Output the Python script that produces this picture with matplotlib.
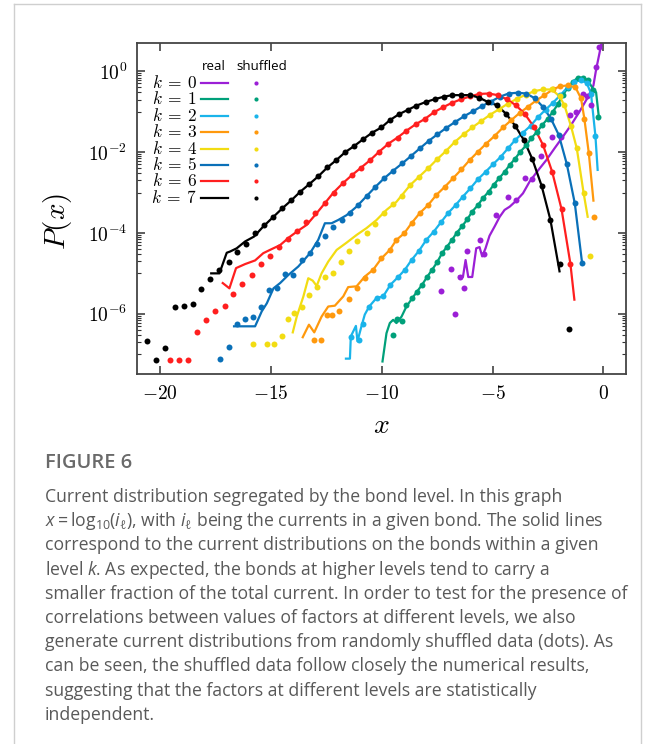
import matplotlib.pyplot as plt
import numpy as np
from matplotlib.ticker import FixedLocator, FuncFormatter, NullFormatter
from matplotlib.lines import Line2D

plt.rcParams['mathtext.fontset'] = 'cm'
# fonts used by the caption (math_fontfamily='custom')
plt.rcParams['mathtext.rm'] = 'Open Sans'
plt.rcParams['mathtext.it'] = 'Open Sans:italic'
plt.rcParams['mathtext.bf'] = 'Open Sans:bold'

levels = [0, 1, 2, 3, 4, 5, 6, 7]
colors = ['#9b1fd6', '#00a07a', '#1ab4ea', '#ff990d', '#f2dc12', '#0a70b8', '#ff1f1f', '#000000']

# ---------- data: x = log10(i), values stored as log10 P(x) ----------

# k = 0
real0_x = [-6.52, -6.34, -6.22, -6.10, -5.92, -5.74, -5.59, -5.47, -5.32, -5.14, -4.91, -4.68, -4.46, -4.23,
           -3.93, -3.63, -3.33, -2.96, -2.58, -2.21, -1.83, -1.46, -1.08, -0.71, -0.45, -0.33, -0.18, -0.03]
real0_lg = [-5.08, -5.09, -4.67, -5.09, -5.09, -4.38, -4.35, -4.58, -4.38, -4.07, -3.84, -3.60, -3.43, -3.35,
            -3.20, -3.02, -2.73, -2.46, -2.20, -1.91, -1.62, -1.33, -1.00, -0.65, -0.35, 0.04, 0.44, 0.85]
shuf0_x = [-7.31, -6.86, -6.71, -6.49, -6.31, -6.16, -5.59, -5.41, -4.86, -4.31, -3.93, -3.56, -3.21, -2.81,
           -2.31, -1.91, -1.53, -1.23, -0.90, -0.75, -0.57, -0.33, -0.18]
shuf0_lg = [-5.43, -4.90, -6.00, -5.08, -5.37, -4.44, -4.17, -4.52, -3.56, -3.10, -3.19, -2.65, -2.67, -2.09,
            -1.62, -1.62, -1.09, -1.00, -0.57, -0.62, -0.84, 0.11, 0.60]

# k = 1
real1_x = [-9.97, -9.79, -9.64, -9.49, -9.34, -9.11, -8.89, -8.62, -8.41, -8.18, -7.96, -7.73, -7.51, -7.28,
           -7.06, -6.83, -6.61, -6.37, -6.14, -5.92, -5.66, -5.44, -5.18, -4.95, -4.71, -4.46, -4.23, -3.98,
           -3.75, -3.48, -3.26, -3.00, -2.76, -2.51, -2.28, -2.06, -1.83, -1.61, -1.38, -1.16, -0.93, -0.71,
           -0.45, -0.33, -0.21]
real1_lg = [-7.18, -6.48, -6.23, -6.15, -6.23, -6.07, -5.82, -5.61, -5.45, -5.28, -5.09, -4.91, -4.73, -4.50,
            -4.34, -4.17, -3.99, -3.83, -3.66, -3.47, -3.31, -3.14, -2.98, -2.81, -2.65, -2.49, -2.32, -2.16,
            -1.99, -1.83, -1.66, -1.50, -1.33, -1.17, -1.00, -0.82, -0.59, -0.41, -0.26, -0.16, -0.16, -0.22,
            -0.45, -0.52, -1.11]
shuf1_x = [-9.49, -9.31, -9.08, -8.89, -8.62, -8.41, -8.18, -7.96, -7.73, -7.51, -7.28, -7.06, -6.83, -6.61,
           -6.37, -6.14, -5.92, -5.66, -5.44, -5.18, -4.95, -4.71, -4.46, -4.23, -3.98, -3.75, -3.48, -3.26,
           -3.00, -2.76, -2.51, -2.28, -2.06, -1.83, -1.61, -1.38, -1.16, -0.93, -0.71, -0.45, -0.26]
shuf1_lg = [-6.52, -6.13, -6.19, -5.78, -5.61, -5.45, -5.28, -5.09, -4.91, -4.73, -4.50, -4.34, -4.17, -3.99,
            -3.83, -3.66, -3.47, -3.31, -3.14, -2.98, -2.81, -2.65, -2.49, -2.32, -2.16, -1.99, -1.83, -1.66,
            -1.50, -1.33, -1.17, -1.00, -0.82, -0.59, -0.41, -0.26, -0.16, -0.16, -0.22, -0.47, -1.13]

# k = 2
real2_x = [-11.62, -11.44, -11.40, -11.17, -11.10, -10.92, -10.77, -10.57, -10.24, -9.94, -9.61, -9.26, -8.96,
           -8.66, -8.32, -7.99, -7.66, -7.31, -7.01, -6.67, -6.34, -6.01, -5.66, -5.32, -4.98, -4.64, -4.31,
           -3.98, -3.63, -3.29, -2.96, -2.61, -2.28, -1.94, -1.61, -1.31, -1.01, -0.75, -0.56, -0.36, -0.26]
real2_lg = [-7.11, -7.11, -6.56, -6.30, -6.68, -6.31, -6.02, -5.82, -5.61, -5.57, -5.28, -5.09, -4.91,
            -4.67, -4.44, -4.17, -3.97, -3.72, -3.51, -3.31, -3.10, -2.90, -2.67, -2.49, -2.30, -2.12, -1.91,
            -1.70, -1.52, -1.35, -1.14, -0.95, -0.78, -0.59, -0.39, -0.26, -0.22, -0.29, -0.55, -1.60, -2.44]
shuf2_x = [-11.37, -11.02, -10.84, -10.57, -10.24, -9.94, -9.61, -9.26, -8.96, -8.66, -8.32, -7.99, -7.66,
           -7.31, -7.01, -6.67, -6.34, -6.01, -5.66, -5.32, -4.98, -4.64, -4.31, -3.98, -3.63, -3.29, -2.96,
           -2.61, -2.28, -1.94, -1.61, -1.31, -1.01, -0.75, -0.56, -0.36]
shuf2_lg = [-6.58, -6.66, -6.25, -5.82, -5.61, -5.57, -5.28, -5.09, -4.91, -4.67, -4.44, -4.17, -3.97,
            -3.72, -3.51, -3.31, -3.10, -2.90, -2.67, -2.49, -2.30, -2.12, -1.91, -1.70, -1.52, -1.35, -1.14,
            -0.95, -0.78, -0.59, -0.39, -0.26, -0.22, -0.29, -0.55, -1.60]

# k = 3
real3_x = [-13.57, -13.29, -13.05, -12.72, -12.42, -12.12, -11.74, -11.52, -11.14, -10.77, -10.39, -10.02,
           -9.64, -9.34, -8.99, -8.66, -8.29, -7.91, -7.54, -7.16, -6.79, -6.41, -6.04, -5.66, -5.29, -4.91,
           -4.53, -4.16, -3.78, -3.41, -3.03, -2.66, -2.28, -1.95, -1.61, -1.26, -1.01, -0.86, -0.66, -0.45]
real3_lg = [-6.58, -6.27, -6.46, -6.07, -5.82, -5.80, -5.57, -5.34, -5.32, -5.08, -4.91, -4.63, -4.42,
            -4.17, -4.01, -3.76, -3.51, -3.31, -3.06, -2.86, -2.65, -2.43, -2.20, -1.99, -1.79, -1.60, -1.39,
            -1.21, -1.03, -0.88, -0.72, -0.59, -0.45, -0.37, -0.35, -0.40, -0.67, -1.17, -2.02, -3.20]
shuf3_x = [-13.05, -12.75, -12.46, -12.24, -11.92, -11.50, -11.14, -10.77, -10.39, -10.02, -9.64, -9.34,
           -8.99, -8.66, -8.29, -7.91, -7.54, -7.16, -6.79, -6.41, -6.04, -5.66, -5.29, -4.91, -4.53, -4.16,
           -3.78, -3.41, -3.03, -2.66, -2.28, -1.95, -1.61, -1.26, -1.01, -0.86, -0.66, -0.41]
shuf3_lg = [-6.64, -6.64, -6.04, -6.04, -5.92, -5.64, -5.37, -5.12, -4.91, -4.63, -4.42, -4.17, -4.01,
            -3.76, -3.51, -3.31, -3.06, -2.86, -2.65, -2.43, -2.20, -1.99, -1.79, -1.60, -1.39, -1.21, -1.03,
            -0.88, -0.72, -0.59, -0.45, -0.37, -0.35, -0.40, -0.67, -1.17, -2.02, -3.60]

# k = 4
real4_x = [-14.02, -13.84, -13.54, -13.32, -13.12, -12.94, -12.72, -12.42, -12.04, -11.59, -11.14, -10.69,
           -10.24, -9.79, -9.34, -8.71, -8.32, -7.91, -7.51, -7.12, -6.71, -6.31, -5.92, -5.51, -5.10, -4.71,
           -4.31, -3.90, -3.51, -3.11, -2.73, -2.33, -1.98, -1.76, -1.46, -1.20, -0.89, -0.71]
real4_lg = [-6.46, -6.07, -5.57, -5.12, -5.18, -5.31, -5.00, -4.71, -4.42, -4.24, -4.05, -3.88, -3.68,
            -3.43, -3.23, -2.81, -2.61, -2.40, -2.18, -1.98, -1.75, -1.56, -1.39, -1.23, -1.07, -0.94, -0.80,
            -0.68, -0.58, -0.49, -0.45, -0.45, -0.62, -0.84, -1.36, -1.91, -3.02, -3.60]
shuf4_x = [-15.80, -15.19, -14.86, -14.52, -14.25, -13.95, -13.62, -13.27, -12.91, -12.57, -12.22, -11.85,
           -11.47, -11.10, -10.69, -10.29, -9.91, -9.49, -9.11, -8.71, -8.32, -7.91, -7.51, -7.12, -6.71,
           -6.31, -5.92, -5.51, -5.10, -4.71, -4.31, -3.90, -3.51, -3.11, -2.73, -2.33, -1.98, -1.76, -1.46,
           -1.20, -0.89, -0.60]
shuf4_lg = [-6.74, -6.74, -6.74, -6.54, -6.13, -5.97, -5.82, -5.53, -5.34, -5.08, -5.00, -4.71, -4.44,
            -4.21, -4.01, -3.78, -3.50, -3.28, -3.09, -2.81, -2.61, -2.40, -2.18, -1.98, -1.75, -1.56, -1.39,
            -1.23, -1.07, -0.94, -0.80, -0.68, -0.58, -0.49, -0.45, -0.45, -0.62, -0.84, -1.36, -1.91, -3.02,
            -4.57]

# k = 5
real5_x = [-16.67, -15.72, -15.42, -15.19, -14.89, -14.59, -14.22, -13.77, -13.24, -12.87, -12.57, -12.27,
           -11.97, -11.59, -11.14, -10.69, -10.29, -9.90, -9.49, -9.08, -8.69, -8.29, -7.88, -7.49, -7.09,
           -6.68, -6.28, -5.89, -5.48, -5.08, -4.68, -4.28, -3.87, -3.48, -3.09, -2.73, -2.37, -2.01, -1.65,
           -1.29, -0.96]
real5_lg = [-6.31, -6.31, -5.94, -5.74, -5.37, -5.24, -5.04, -4.83, -4.50, -4.17, -3.76, -3.76, -3.68,
            -3.56, -3.35, -3.09, -2.86, -2.65, -2.46, -2.28, -2.10, -1.91, -1.72, -1.56, -1.40, -1.25, -1.11,
            -0.99, -0.86, -0.75, -0.63, -0.55, -0.53, -0.55, -0.67, -0.88, -1.17, -1.58, -2.30, -3.27, -4.75]
shuf5_x = [-17.30, -16.91, -16.55, -16.17, -15.83, -15.45, -15.09, -14.74, -14.37, -13.99, -13.62, -13.24,
           -12.91, -12.57, -12.19, -11.79, -11.44, -11.07, -10.69, -10.29, -9.90, -9.49, -9.08, -8.69, -8.29,
           -7.88, -7.49, -7.09, -6.68, -6.28, -5.89, -5.48, -5.08, -4.68, -4.28, -3.87, -3.48, -3.09, -2.73,
           -2.37, -2.01, -1.65, -1.29, -0.96]
shuf5_lg = [-7.11, -6.81, -6.25, -6.13, -6.09, -5.84, -5.41, -5.37, -5.01, -5.04, -4.68, -4.50, -4.27,
            -4.07, -3.86, -3.68, -3.50, -3.31, -3.09, -2.86, -2.65, -2.46, -2.28, -2.10, -1.91, -1.72, -1.56,
            -1.40, -1.25, -1.11, -0.99, -0.86, -0.75, -0.63, -0.55, -0.53, -0.55, -0.67, -0.88, -1.17, -1.58,
            -2.30, -3.27, -4.75]

# k = 6
real6_x = [-17.18, -16.88, -16.58, -16.17, -15.72, -15.35, -15.05, -14.59, -14.14, -13.74, -13.39, -12.94,
           -12.58, -12.18, -11.76, -11.35, -10.95, -10.53, -10.12, -9.70, -9.29, -8.89, -8.47, -8.06, -7.64,
           -7.24, -6.83, -6.41, -6.01, -5.60, -5.18, -4.77, -4.37, -3.95, -3.54, -3.12, -2.72, -2.31, -1.89,
           -1.49, -1.31]
real6_lg = [-5.24, -5.37, -4.87, -4.77, -4.68, -4.50, -4.42, -4.30, -4.09, -3.93, -3.80, -3.51, -3.27,
            -3.00, -2.77, -2.57, -2.39, -2.20, -1.99, -1.79, -1.64, -1.47, -1.31, -1.18, -1.01, -0.89, -0.78,
            -0.69, -0.62, -0.56, -0.55, -0.59, -0.69, -0.84, -1.06, -1.39, -1.83, -2.49, -3.41, -4.76, -5.65]
shuf6_x = [-19.58, -19.16, -18.75, -18.35, -17.93, -17.52, -17.10, -16.70, -16.29, -15.87, -15.47, -15.05,
           -14.64, -14.23, -13.81, -13.41, -13.00, -12.58, -12.18, -11.76, -11.35, -10.95, -10.53, -10.12,
           -9.70, -9.29, -8.89, -8.47, -8.06, -7.64, -7.24, -6.83, -6.41, -6.01, -5.60, -5.18, -4.77, -4.37,
           -3.95, -3.54, -3.12, -2.72, -2.31, -1.89, -1.49]
shuf6_lg = [-7.15, -7.15, -7.15, -6.45, -6.15, -5.92, -5.80, -5.51, -5.26, -5.05, -4.77, -4.57, -4.35,
            -4.16, -3.94, -3.72, -3.50, -3.27, -3.00, -2.77, -2.57, -2.39, -2.20, -1.99, -1.79, -1.64, -1.47,
            -1.31, -1.18, -1.01, -0.89, -0.78, -0.69, -0.62, -0.56, -0.55, -0.59, -0.69, -0.84, -1.06, -1.39,
            -1.83, -2.49, -3.41, -4.76]

# k = 7
real7_x = [-17.70, -17.33, -17.00, -16.85, -16.55, -16.17, -15.77, -15.35, -14.89, -14.49, -14.08, -13.68,
           -13.27, -12.87, -12.46, -12.06, -11.65, -11.25, -10.84, -10.44, -10.02, -9.64, -9.22, -8.81, -8.44,
           -8.02, -7.61, -7.21, -6.82, -6.41, -6.01, -5.62, -5.21, -4.80, -4.38, -3.98, -3.59, -3.21, -2.79,
           -2.39, -1.98]
real7_lg = [-5.00, -5.00, -4.49, -4.46, -4.38, -4.21, -4.09, -3.84, -3.60, -3.39, -3.19, -2.98, -2.79,
            -2.60, -2.38, -2.20, -2.00, -1.85, -1.68, -1.52, -1.39, -1.21, -1.06, -0.95, -0.85, -0.76, -0.69,
            -0.63, -0.59, -0.59, -0.59, -0.65, -0.76, -0.84, -1.06, -1.35, -1.70, -2.17, -2.83, -3.68, -4.95]
shuf7_x = [-20.60, -20.18, -19.77, -19.35, -18.95, -18.54, -18.15, -17.75, -17.33, -16.92, -16.52, -16.11,
           -15.71, -15.30, -14.89, -14.49, -14.08, -13.68, -13.27, -12.87, -12.46, -12.06, -11.65, -11.25,
           -10.84, -10.44, -10.02, -9.64, -9.22, -8.81, -8.44, -8.02, -7.61, -7.21, -6.82, -6.41, -6.01,
           -5.62, -5.21, -4.80, -4.38, -3.98, -3.59, -3.21, -2.79, -2.39, -1.98, -1.56]
shuf7_lg = [-6.67, -7.15, -6.85, -5.84, -5.80, -5.76, -5.39, -5.14, -4.91, -4.71, -4.48, -4.27, -4.01,
            -3.80, -3.60, -3.39, -3.19, -2.98, -2.79, -2.60, -2.38, -2.20, -2.00, -1.85, -1.68, -1.52, -1.39,
            -1.21, -1.06, -0.95, -0.85, -0.76, -0.69, -0.63, -0.59, -0.59, -0.59, -0.65, -0.76, -0.84, -1.06,
            -1.35, -1.70, -2.17, -2.83, -3.68, -4.77, -6.37]

real_x = [real0_x, real1_x, real2_x, real3_x, real4_x, real5_x, real6_x, real7_x]
real_lg = [real0_lg, real1_lg, real2_lg, real3_lg, real4_lg, real5_lg, real6_lg, real7_lg]
shuf_x = [shuf0_x, shuf1_x, shuf2_x, shuf3_x, shuf4_x, shuf5_x, shuf6_x, shuf7_x]
shuf_lg = [shuf0_lg, shuf1_lg, shuf2_lg, shuf3_lg, shuf4_lg, shuf5_lg, shuf6_lg, shuf7_lg]

x_ticks = [-20, -15, -10, -5, 0]
y_ticks = [1e-6, 1e-4, 1e-2, 1e0]

caption_title = 'FIGURE 6'
caption = [
    'Current distribution segregated by the bond level. In this graph',
    r'$x = \mathrm{log}_{10}(i_{\ell})$, with $i_{\ell}$ being the currents in a given bond. The solid lines',
    'correspond to the current distributions on the bonds within a given',
    r'level $k$. As expected, the bonds at higher levels tend to carry a',
    'smaller fraction of the total current. In order to test for the presence of',
    'correlations between values of factors at different levels, we also',
    'generate current distributions from randomly shuffled data (dots). As',
    'can be seen, the shuffled data follow closely the numerical results,',
    'suggesting that the factors at different levels are statistically',
    'independent.',
]

# ---------- figure ----------
fig = plt.figure(figsize=(6.56, 7.44), dpi=100)
W, H = 656, 744
ax = fig.add_axes([137 / W, 1 - 374 / H, 489 / W, 331 / H])

for k in levels:
    ax.plot(real_x[k], 10 ** np.array(real_lg[k]), '-', color=colors[k], lw=1.6, zorder=2)
    ax.plot(shuf_x[k], 10 ** np.array(shuf_lg[k]), 'o', color=colors[k], ms=4.3, mec='none', zorder=3)

ax.set_yscale('log')
ax.set_xlim(-21.05, 1.02)
ax.set_ylim(10 ** -7.49, 10 ** 0.70)

ax.xaxis.set_major_locator(FixedLocator(x_ticks))
ax.xaxis.set_major_formatter(FuncFormatter(lambda v, p: r'$%d$' % round(v)))
ax.xaxis.set_minor_locator(FixedLocator([]))
ax.yaxis.set_major_locator(FixedLocator(y_ticks))
ax.yaxis.set_major_formatter(FuncFormatter(lambda v, p: r'$10^{%d}$' % round(np.log10(v))))
minor = [m * t for t in y_ticks for m in (0.1, 0.2, 0.3, 0.4, 0.5, 0.6, 0.7, 0.8, 0.9)]
ax.yaxis.set_minor_locator(FixedLocator(minor))
ax.yaxis.set_minor_formatter(NullFormatter())

ax.tick_params(which='both', direction='in', top=True, right=True, color='#333333')
ax.tick_params(which='major', length=6, width=1.1, labelsize=14, pad=7)
ax.tick_params(which='minor', length=3, width=0.8)
for s in ax.spines.values():
    s.set_color('#444444')
    s.set_linewidth(1.3)

ax.set_xlabel('$x$', fontsize=20, va='center')
ax.xaxis.set_label_coords(0.5, (374 - 425) / 331)
ax.set_ylabel('$P(x)$', fontsize=21, va='center', ha='center')
ax.yaxis.set_label_coords((57 - 137) / 489, 0.46)

# legend: "real" lines and "shuffled" dots
tr = ax.transAxes
ax.text(0.157, 0.9275, 'real', transform=tr, ha='center', va='center', fontsize=9.5, family='Open Sans')
ax.text(0.2556, 0.9275, 'shuffled', transform=tr, ha='center', va='center', fontsize=9.5, family='Open Sans')
for i, k in enumerate(levels):
    yy = 0.879 - 0.0495 * i
    ax.text(0.1227, yy, r'$k\:=\:%d$' % k, transform=tr, ha='right', va='center', fontsize=12.5)
    ax.add_line(Line2D([0.1309, 0.1861], [yy, yy], transform=tr, color=colors[k], lw=1.6))
    ax.add_line(Line2D([0.2434], [yy], transform=tr, color=colors[k], marker='o', ms=3, mec='none', ls='none'))

# page frame and caption
fig.add_artist(Line2D([14 / W, 14 / W], [0, 1 - 4 / H], color='#cfcfcf', lw=1))
fig.add_artist(Line2D([14 / W, 641 / W], [1 - 4 / H, 1 - 4 / H], color='#cfcfcf', lw=1))
fig.add_artist(Line2D([641 / W, 641 / W], [0, 1 - 4 / H], color='#cfcfcf', lw=1))

fig.text(45 / W, 1 - 463 / H, caption_title, fontsize=14.5, fontweight='semibold', color='#6a6a6a',
         family='Open Sans', va='center')
for i, line in enumerate(caption):
    fig.text(45 / W, 1 - (497 + 24.2 * i) / H, line, fontsize=12.7, color='#595959', family='Open Sans',
             va='center', math_fontfamily='custom')

fig.savefig('out.png', dpi=100)
